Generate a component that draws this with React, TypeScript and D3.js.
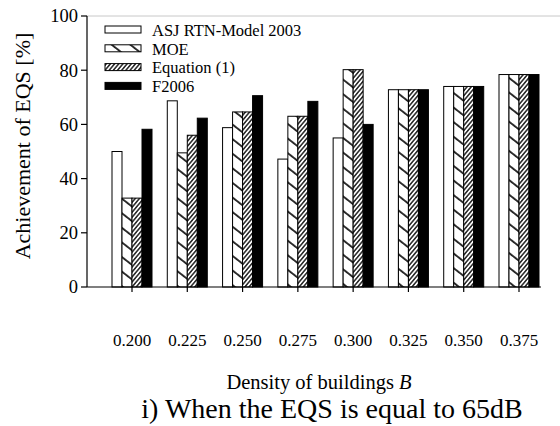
import React from "react";
import * as d3 from "d3";

const categories = ["0.200", "0.225", "0.250", "0.275", "0.300", "0.325", "0.350", "0.375"];
const seriesNames = ["ASJ RTN-Model 2003", "MOE", "Equation (1)", "F2006"];
const asj = [50, 68.7, 58.8, 47.2, 55, 72.8, 74, 78.4];
const moe = [32.8, 49.5, 64.6, 63, 80.2, 72.8, 74, 78.4];
const eq1 = [32.8, 56, 64.6, 63, 80.2, 72.8, 74, 78.4];
const f2006 = [58.2, 62.3, 70.6, 68.5, 60, 72.8, 74, 78.4];
const yTicks = [0, 20, 40, 60, 80, 100];

const series = [asj, moe, eq1, f2006];
const fills = ["#ffffff", "url(#pMoe)", "url(#pEq)", "#000000"];

const W = 560;
const H = 426;
const left = 87;
const right = 541;
const top = 16;
const bottom = 287;

export default function App() {
  const x = d3.scalePoint<string>().domain(categories).range([132, 519]);
  const inner = d3.scaleBand<number>().domain([0, 1, 2, 3]).range([-20, 20]).padding(0);
  const y = d3.scaleLinear().domain([0, 100]).range([bottom, top]);
  const font = "'Liberation Serif', 'Times New Roman', serif";

  return (
    <svg width={W} height={H} style={{ position: "absolute", left: 0, top: 0, background: "#fff" }}>
      <defs>
        <pattern id="pMoe" patternUnits="userSpaceOnUse" width={20} height={11.5} patternTransform="rotate(38)">
          <rect width={20} height={11.5} fill="#fff" />
          <line x1={0} y1={1} x2={20} y2={1} stroke="#000" strokeWidth={1.6} />
        </pattern>
        <pattern id="pEq" patternUnits="userSpaceOnUse" width={10} height={3.2} patternTransform="rotate(-50)">
          <rect width={10} height={3.2} fill="#fff" />
          <line x1={0} y1={0.8} x2={10} y2={0.8} stroke="#000" strokeWidth={1.3} />
        </pattern>
      </defs>

      {/* faint top frame */}
      <line x1={left} y1={top} x2={W} y2={top} stroke="#c8c8c8" strokeWidth={1} />

      {/* bars */}
      {series.map((vals, si) =>
        vals.map((v, ci) => {
          const cx = x(categories[ci])!;
          const bx = cx + inner(si)!;
          return (
            <rect
              key={`${si}-${ci}`}
              x={bx}
              y={y(v)}
              width={inner.bandwidth()}
              height={bottom - y(v)}
              fill={fills[si]}
              stroke="#000"
              strokeWidth={1}
            />
          );
        })
      )}

      {/* y axis */}
      <line x1={left} y1={top} x2={left} y2={bottom} stroke="#000" strokeWidth={1.2} />
      {yTicks.map((t) => (
        <g key={t}>
          <line x1={left - 6} y1={y(t)} x2={left} y2={y(t)} stroke="#000" strokeWidth={1.2} />
          <text x={left - 9} y={y(t)} dy="0.35em" textAnchor="end" fontFamily={font} fontSize={18.5}>
            {t}
          </text>
        </g>
      ))}

      {/* x axis */}
      <line x1={left} y1={bottom} x2={right} y2={bottom} stroke="#000" strokeWidth={1.2} />
      {categories.map((c) => (
        <g key={c}>
          <line x1={x(c)!} y1={bottom} x2={x(c)!} y2={bottom + 5} stroke="#000" strokeWidth={1.2} />
          <text x={x(c)!} y={346} textAnchor="middle" fontFamily={font} fontSize={17}>
            {c}
          </text>
        </g>
      ))}

      {/* axis titles */}
      <text
        transform={`translate(30, 146) rotate(-90)`}
        textAnchor="middle"
        fontFamily={font}
        fontSize={22}
      >
        Achievement of EQS [%]
      </text>
      <text x={319} y={389} textAnchor="middle" fontFamily={font} fontSize={20.5}>
        Density of buildings <tspan fontStyle="italic">B</tspan>
      </text>
      <text x={332} y={418} textAnchor="middle" fontFamily={font} fontSize={28}>
        i) When the EQS is equal to 65dB
      </text>

      {/* legend */}
      {seriesNames.map((name, i) => {
        const ly = 30 + i * 18.8;
        return (
          <g key={name}>
            <rect x={105} y={ly - 4} width={36} height={7} fill={fills[i]} stroke="#000" strokeWidth={1} />
            <text x={152} y={ly} dy="0.35em" fontFamily={font} fontSize={16.5}>
              {name}
            </text>
          </g>
        );
      })}
    </svg>
  );
}
